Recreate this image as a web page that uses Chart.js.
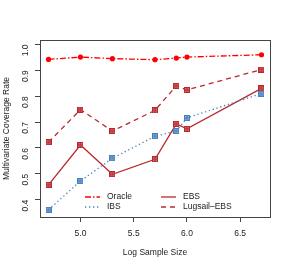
<!DOCTYPE html>
<html>
<head>
<meta charset="utf-8">
<script src="https://cdn.jsdelivr.net/npm/chart.js@4"></script>
<style>
  html, body { margin: 0; padding: 0; background: #fff; }
  #wrap { width: 291px; height: 267px; }
</style>
</head>
<body>
<div id="wrap"><canvas id="coverageChart" width="291" height="267"></canvas></div>
<script>
// data
const logSampleSize = [4.7, 5.0, 5.3, 5.7, 5.9, 6.0, 6.7];
const oracle  = [0.942, 0.951, 0.945, 0.941, 0.947, 0.951, 0.960];
const ibs     = [0.361, 0.472, 0.560, 0.645, 0.665, 0.716, 0.810];
const ebs     = [0.457, 0.611, 0.498, 0.556, 0.693, 0.674, 0.830];
const lugsail = [0.622, 0.748, 0.665, 0.745, 0.840, 0.824, 0.903];
const xTicks = [5.0, 5.5, 6.0, 6.5];
const yTicks = [0.4, 0.5, 0.6, 0.7, 0.8, 0.9, 1.0];

const red = 'rgb(255,0,0)';
const darkRed = 'rgb(185,40,45)';
const blue = 'rgb(70,130,190)';
const font = 'Liberation Sans, Arial, sans-serif';

// square with a plus inside, like R pch 12
function squareMarker(color) {
    const c = document.createElement('canvas');
    c.width = 6; c.height = 6;
    const ctx = c.getContext('2d');
    ctx.fillStyle = color;
    ctx.fillRect(0, 0, 6, 6);
    ctx.fillStyle = 'rgba(255,255,255,0.35)';
    ctx.fillRect(1, 1, 4, 4);
    ctx.fillStyle = color;
    ctx.fillRect(0, 2.5, 6, 1);
    ctx.fillRect(2.5, 0, 1, 6);
    return c;
}

function pts(ys) {
    return logSampleSize.map((x, i) => ({ x: x, y: ys[i] }));
}

const boxPlugin = {
    id: 'box',
    afterDatasetsDraw(chart) {
        const a = chart.chartArea;
        const ctx = chart.ctx;
        ctx.save();
        ctx.strokeStyle = '#444';
        ctx.lineWidth = 1;
        ctx.strokeRect(Math.round(a.left) + 0.5, Math.round(a.top) + 0.5,
            Math.round(a.right - a.left), Math.round(a.bottom - a.top));
        ctx.restore();
    }
};

// R style legend in two columns inside the plot
const legendPlugin = {
    id: 'rlegend',
    afterDraw(chart) {
        const ctx = chart.ctx;
        const slots = [[85, 197], [85, 207], [161, 197], [161, 207]];
        ctx.save();
        ctx.font = '8.5px ' + font;
        ctx.textBaseline = 'middle';
        chart.data.datasets.forEach((ds, k) => {
            const [x, y] = slots[k];
            ctx.strokeStyle = ds.borderColor;
            ctx.lineWidth = ds.borderWidth;
            ctx.setLineDash(ds.borderDash || []);
            ctx.beginPath();
            ctx.moveTo(x, y); ctx.lineTo(x + 15, y);
            ctx.stroke();
            ctx.setLineDash([]);
            ctx.fillStyle = '#222';
            ctx.fillText(ds.label, x + 22, y);
        });
        ctx.restore();
    }
};

new Chart(document.getElementById('coverageChart'), {
    type: 'line',
    data: {
        datasets: [
            { label: 'Oracle', data: pts(oracle), borderColor: red, backgroundColor: red,
              borderWidth: 1.3, borderDash: [6, 2, 1.5, 2], pointStyle: 'circle',
              pointRadius: 2.6, pointBorderWidth: 0 },
            { label: 'IBS', data: pts(ibs), borderColor: blue, backgroundColor: blue,
              borderWidth: 1.3, borderDash: [1.3, 2.7], pointStyle: squareMarker(blue) },
            { label: 'EBS', data: pts(ebs), borderColor: darkRed, backgroundColor: darkRed,
              borderWidth: 1.3, borderDash: [], pointStyle: squareMarker(darkRed) },
            { label: 'Lugsail\u2013EBS', data: pts(lugsail), borderColor: darkRed, backgroundColor: darkRed,
              borderWidth: 1.3, borderDash: [5, 4], pointStyle: squareMarker(darkRed) }
        ]
    },
    options: {
        responsive: false,
        animation: false,
        layout: { padding: { top: 40, right: 21, left: 0, bottom: 5 } },
        elements: { line: { tension: 0 } },
        plugins: { legend: { display: false }, tooltip: { enabled: false } },
        scales: {
            x: {
                type: 'linear',
                min: 4.62, max: 6.78,
                afterFit: s => { s.height = 45; },
                afterBuildTicks: s => { s.ticks = xTicks.map(v => ({ value: v })); },
                grid: { drawOnChartArea: false, tickLength: 5, color: '#444' },
                border: { display: false },
                ticks: { font: { family: font, size: 8.5 }, color: '#222', padding: 7,
                         maxRotation: 0, callback: v => v.toFixed(1) },
                title: { display: true, text: 'Log Sample Size', color: '#222',
                         font: { family: font, size: 8.5 }, padding: { top: 4, bottom: 4 } }
            },
            y: {
                min: 0.333, max: 1.017,
                afterFit: s => { s.width = 40; },
                afterBuildTicks: s => { s.ticks = yTicks.map(v => ({ value: v })); },
                grid: { drawOnChartArea: false, tickLength: 5, color: '#444' },
                border: { display: false },
                ticks: { font: { family: font, size: 8.5 }, color: '#222', padding: 9,
                         minRotation: 90, maxRotation: 90, callback: v => v.toFixed(1) },
                title: { display: true, text: 'Multivariate Coverage Rate', color: '#222',
                         font: { family: font, size: 8.5 }, padding: { top: 2 } }
            }
        }
    },
    plugins: [boxPlugin, legendPlugin]
});
</script>
</body>
</html>
